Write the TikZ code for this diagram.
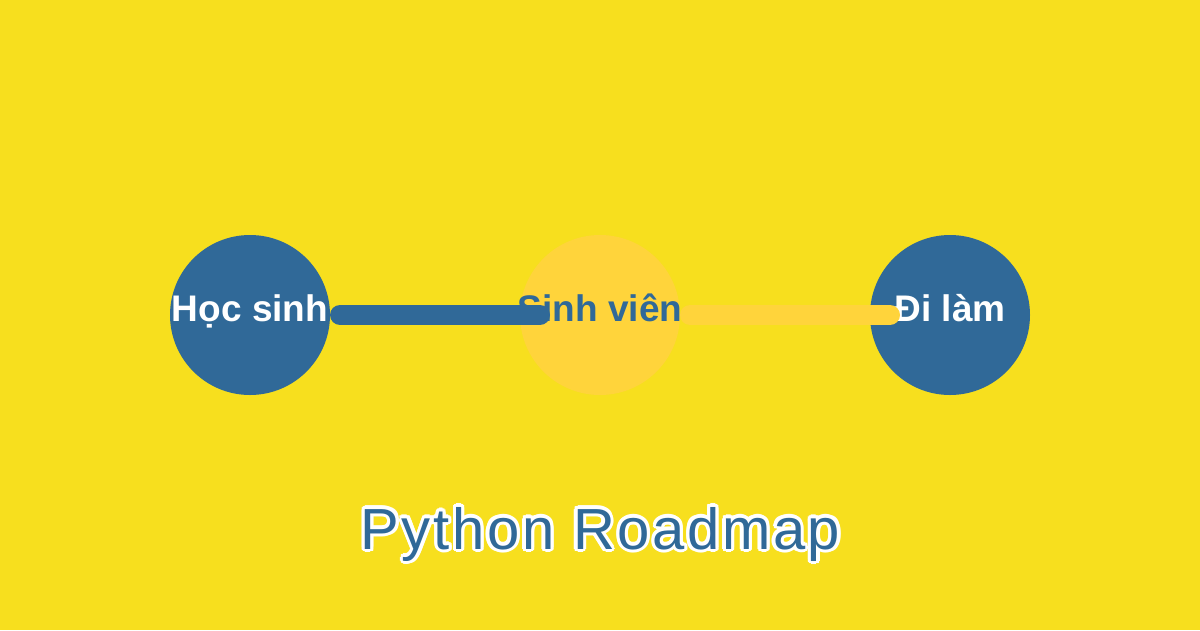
\documentclass[tikz,border=0pt]{standalone}
\usepackage{fontspec}
\setmainfont{Liberation Sans}
\newfontfamily\ttlfont[LetterSpace=4.5]{Liberation Sans}
\definecolor{bg}{HTML}{F7DF1E}
\definecolor{pyblue}{HTML}{306998}
\definecolor{pyyellow}{HTML}{FFD43B}
\tikzset{
  stage/.style={circle, minimum size=160pt, inner sep=0pt, outer sep=0pt, draw=none},
  lbl/.style={anchor=base, inner sep=0pt, font=\fontsize{37}{40}\selectfont\bfseries},
  link/.style={line width=20pt, line cap=round, shorten <=10pt, shorten >=-20pt},
  ttl/.style={anchor=base, inner sep=0pt, font=\ttlfont\fontsize{58}{62}\selectfont}
}
\begin{document}
\begin{tikzpicture}[x=1pt,y=-1pt]
\fill[bg] (0,0) rectangle (1200,630);
\useasboundingbox (0,0) rectangle (1200,630);
\node[stage, fill=pyblue] (hoc) at (250,315) {};
\node[stage, fill=pyyellow] (sinh) at (600,315) {};
\node[stage, fill=pyblue] (di) at (950,315) {};
\node[lbl, text=white] (thoc) at (250,321) {Học sinh};
\node[lbl, text=pyblue] (tsinh) at (600,321) {Sinh viên};
\node[lbl, text=white] (tdi) at (950,321) {Đi làm};
\draw[link, pyblue] (hoc.east) -- (sinh.west);
\draw[link, pyyellow] (sinh.east) -- (di.west);
\foreach \a [count=\i] in {0,22.5,...,337.5}
  \node[ttl, text=white, xshift={3.2*cos(\a)}, yshift={3.2*sin(\a)}] (ttlo\i) at (600.5,549) {Python Roadmap};
\node[ttl, text=pyblue] (ttl) at (600.5,549) {Python Roadmap};
\end{tikzpicture}
\end{document}
